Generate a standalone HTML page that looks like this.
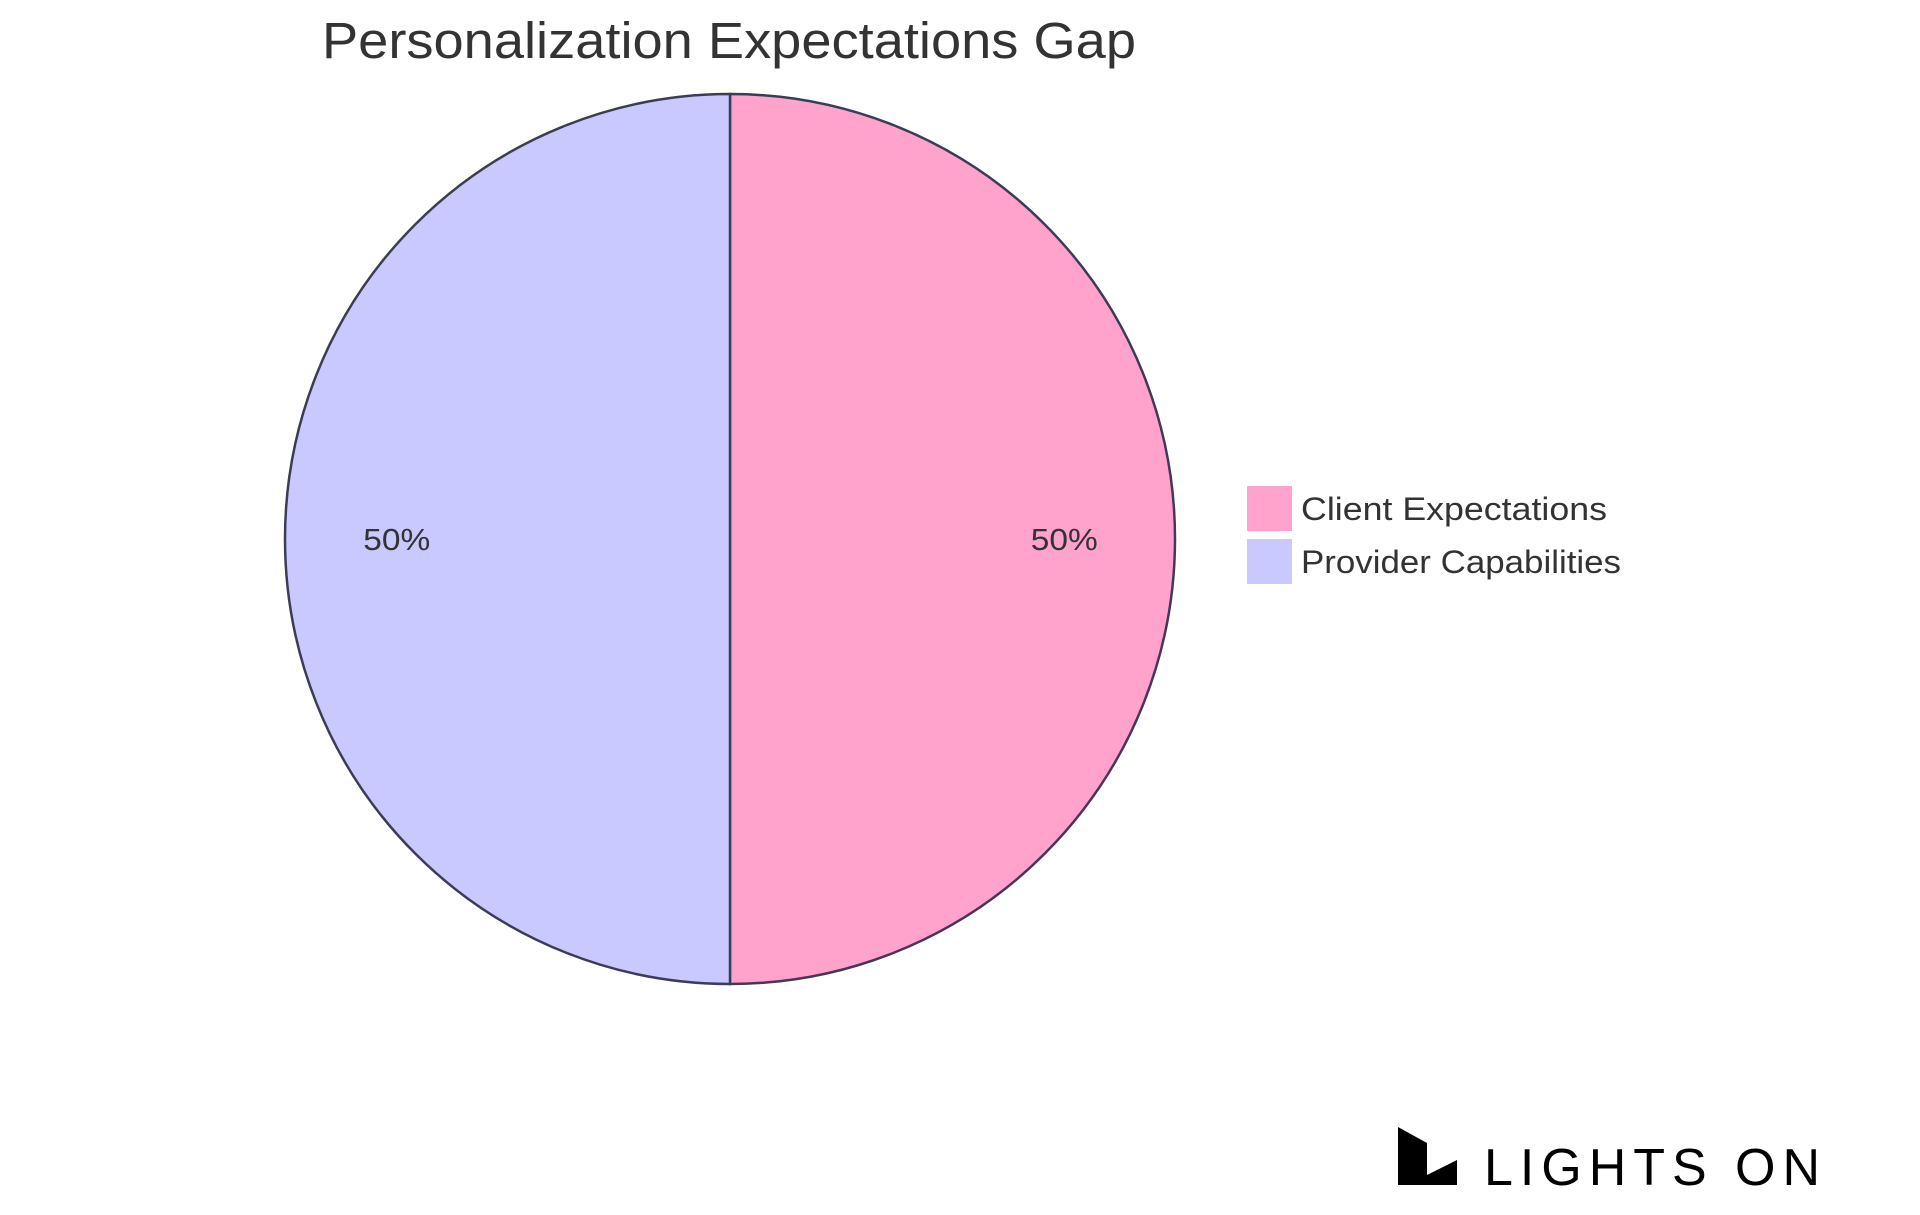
<!DOCTYPE html>
<html>
<head>
<meta charset="utf-8">
<style>
  html,body{margin:0;padding:0;background:#fff;}
  body{width:1920px;height:1215px;position:relative;overflow:hidden;font-family:"Liberation Sans",sans-serif;}
  svg{position:absolute;left:0;top:0;}
</style>
</head>
<body>
<svg id="chart" width="1920" height="1215">
  <text x="322" y="58" textLength="814" lengthAdjust="spacingAndGlyphs" font-size="51" fill="#333" font-family="Liberation Sans, sans-serif">Personalization Expectations Gap</text>
  <g id="slices"></g>
  <g id="legend"></g>
  <g>
    <polygon points="1398,1127 1427,1143 1427,1185 1398,1185" fill="#000"/>
    <polygon points="1427,1175 1457,1160 1457,1185 1427,1185" fill="#000"/>
    <text x="1484" y="1185" textLength="336" lengthAdjust="spacing" font-size="52" fill="#000" font-family="Liberation Sans, sans-serif">LIGHTS ON</text>
  </g>
</svg>
<script>
const categories = ["Client Expectations", "Provider Capabilities"];
const values = [50, 50];
const colors = ["#FFA3CD", "#C9C9FF"];

const legendWidths = [306, 320];
const cx = 730, cy = 539, r = 445;
const NS = "http://www.w3.org/2000/svg";
const slicesG = document.getElementById('slices');
const legendG = document.getElementById('legend');
const total = values.reduce((a, b) => a + b, 0);
let ang = -Math.PI / 2;
function pt(a, rad) { return [cx + rad * Math.cos(a), cy + rad * Math.sin(a)]; }
values.forEach((v, i) => {
  const sweep = v / total * Math.PI * 2;
  const a0 = ang, a1 = ang + sweep;
  const [x0, y0] = pt(a0, r), [x1, y1] = pt(a1, r);
  const large = sweep > Math.PI ? 1 : 0;
  const path = document.createElementNS(NS, 'path');
  path.setAttribute('d', `M${cx},${cy} L${x0},${y0} A${r},${r} 0 ${large} 1 ${x1},${y1} Z`);
  path.setAttribute('fill', colors[i]);
  path.setAttribute('stroke', '#3c3c58');
  path.setAttribute('stroke-width', '2.5');
  
  
  slicesG.appendChild(path);
  const mid = (a0 + a1) / 2;
  const [lx, ly] = pt(mid, r * 0.75);
  const t = document.createElementNS(NS, 'text');
  t.setAttribute('x', lx - 33);
  t.setAttribute('y', ly + 11);
  t.setAttribute('textLength', 67);
  t.setAttribute('lengthAdjust', 'spacingAndGlyphs');
  t.setAttribute('font-size', '31');
  t.setAttribute('fill', '#333');
  t.textContent = Math.round(v / total * 100) + '%';
  
  
  slicesG.appendChild(t);
  ang = a1;
});
categories.forEach((c, i) => {
  const y = 486 + i * 53;
  const rect = document.createElementNS(NS, 'rect');
  rect.setAttribute('x', 1247); rect.setAttribute('y', y);
  rect.setAttribute('width', 45); rect.setAttribute('height', 45);
  rect.setAttribute('fill', colors[i]);
  
  
  legendG.appendChild(rect);
  const t = document.createElementNS(NS, 'text');
  t.setAttribute('x', 1301); t.setAttribute('y', y + 34);
  t.setAttribute('font-size', '32');
  t.setAttribute('textLength', legendWidths[i]);
  t.setAttribute('lengthAdjust', 'spacingAndGlyphs');
  t.setAttribute('fill', '#333');
  t.textContent = c;
  
  
  legendG.appendChild(t);
});
</script>
</body>
</html>
